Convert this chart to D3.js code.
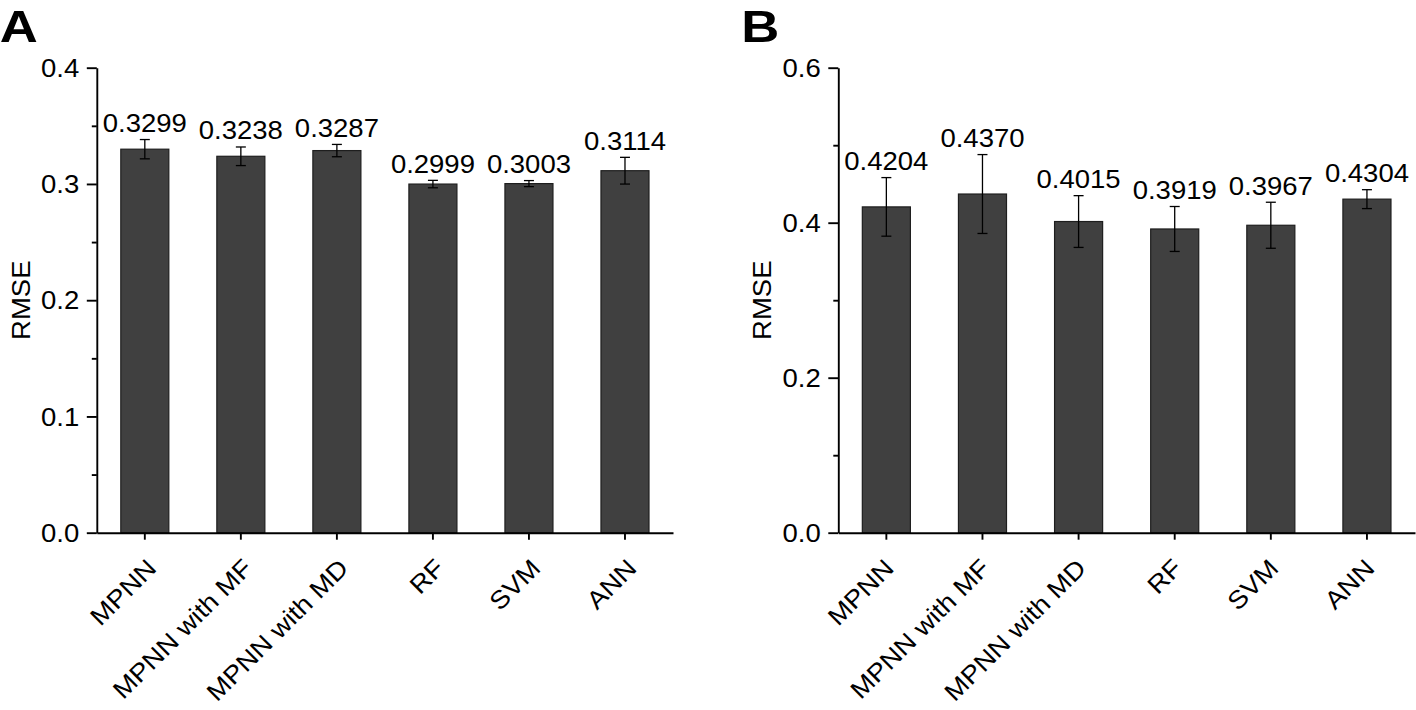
<!DOCTYPE html>
<html>
<head>
<meta charset="utf-8">
<script src="https://cdn.jsdelivr.net/npm/d3@7"></script>
<style>
  html, body { margin: 0; padding: 0; background: #fff; }
  svg { display: block; }
  text { font-family: "Liberation Sans", Arial, Helvetica, sans-serif; fill: #000; }
</style>
</head>
<body>
<svg id="chart" width="1416" height="710"></svg>
<script>
// ---------- data ----------
const categories = ["MPNN", "MPNN with MF", "MPNN with MD", "RF", "SVM", "ANN"];
const rmseA = [0.3299, 0.3238, 0.3287, 0.2999, 0.3003, 0.3114];
const errA  = [0.0083, 0.0080, 0.0053, 0.0032, 0.0026, 0.0115];
const rmseB = [0.4204, 0.4370, 0.4015, 0.3919, 0.3967, 0.4304];
const errB  = [0.0378, 0.0509, 0.0334, 0.0290, 0.0297, 0.0122];
const yTicksA = [0.0, 0.1, 0.2, 0.3, 0.4];
const yMinorA = [0.05, 0.15, 0.25, 0.35];
const yTicksB = [0.0, 0.2, 0.4, 0.6];
const yMinorB = [0.1, 0.3, 0.5];
const panelLetters = ["A", "B"];
const yTitle = "RMSE";

// ---------- drawing ----------
const svg = d3.select("#chart");
const FS = 25;              // text size
const SX = 1.1;             // horizontal glyph widening
const fmt4 = d3.format(".4f");
const fmt1 = d3.format(".1f");

function drawPanel(cfg) {
  const g = svg.append("g");
  const x = d3.scaleBand().domain(categories).range([cfg.x0, cfg.x1]).paddingInner(0.5).paddingOuter(0.25);
  const y = d3.scaleLinear().domain([0, cfg.ymax]).range([cfg.yBottom, cfg.yTop]);

  // bars
  g.selectAll("rect.bar").data(categories).join("rect")
    .attr("class", "bar")
    .attr("x", d => x(d))
    .attr("width", x.bandwidth())
    .attr("y", (d, i) => y(cfg.values[i]))
    .attr("height", (d, i) => y(0) - y(cfg.values[i]))
    .attr("fill", "#404040")
    .attr("stroke", "#1e1e1e")
    .attr("stroke-width", 1.2);

  // error bars
  const cx = d => x(d) + x.bandwidth() / 2;
  const eg = g.selectAll("g.err").data(categories).join("g").attr("class", "err")
    .attr("stroke", "#000").attr("stroke-width", 1.3);
  eg.append("line")
    .attr("x1", cx).attr("x2", cx)
    .attr("y1", (d, i) => y(cfg.values[i] + cfg.errors[i]))
    .attr("y2", (d, i) => y(cfg.values[i] - cfg.errors[i]));
  eg.append("line")
    .attr("x1", d => cx(d) - 5).attr("x2", d => cx(d) + 5)
    .attr("y1", (d, i) => y(cfg.values[i] + cfg.errors[i]))
    .attr("y2", (d, i) => y(cfg.values[i] + cfg.errors[i]));
  eg.append("line")
    .attr("x1", d => cx(d) - 5).attr("x2", d => cx(d) + 5)
    .attr("y1", (d, i) => y(cfg.values[i] - cfg.errors[i]))
    .attr("y2", (d, i) => y(cfg.values[i] - cfg.errors[i]));

  // value labels
  g.selectAll("text.val").data(categories).join("text")
    .attr("class", "val")
    .attr("text-anchor", "middle")
    .attr("font-size", FS)
    .attr("transform", (d, i) => `translate(${cx(d)},${y(cfg.values[i] + cfg.errors[i]) - 7.5}) scale(${SX},1)`)
    .text((d, i) => fmt4(cfg.values[i]));

  // y axis (major)
  const yAxis = g.append("g")
    .attr("transform", `translate(${cfg.x0},0)`)
    .call(d3.axisLeft(y).tickValues(cfg.yTicks).tickSize(10).tickSizeOuter(0).tickFormat(fmt1));
  // y axis (minor)
  g.append("g")
    .attr("transform", `translate(${cfg.x0},0)`)
    .call(d3.axisLeft(y).tickValues(cfg.yMinor).tickSize(5).tickSizeOuter(0).tickFormat(""))
    .select(".domain").remove();

  yAxis.selectAll(".tick text")
    .attr("x", null).attr("dy", "0.35em")
    .attr("font-size", FS)
    .attr("transform", `translate(-17.5,0) scale(${SX},1)`);

  // x axis
  const xAxis = g.append("g")
    .attr("transform", `translate(0,${cfg.yBottom})`)
    .call(d3.axisBottom(x).tickSize(7).tickSizeOuter(0));
  xAxis.selectAll(".tick text")
    .attr("x", null).attr("y", null).attr("dy", null)
    .attr("text-anchor", "end")
    .attr("font-size", FS)
    .attr("transform", `translate(${cfg.labelDx},37) rotate(-45) scale(${SX},1)`);

  g.selectAll(".domain, .tick line").attr("stroke", "#000").attr("stroke-width", 1.9);
  g.selectAll(".tick text").attr("fill", "#000").attr("font-family", null);

  // y title
  g.append("text")
    .attr("text-anchor", "middle")
    .attr("font-size", FS)
    .attr("transform", `translate(${cfg.x0 - 67},${(cfg.yTop + cfg.yBottom) / 2}) rotate(-90) scale(${SX},1)`)
    .text(yTitle);

  // panel letter
  g.append("text")
    .attr("font-size", 45)
    .attr("font-weight", "bold")
    .attr("transform", `translate(${cfg.x0 - 97},41.5) scale(1.17,1)`)
    .text(cfg.letter);
}

drawPanel({ x0: 96.8, x1: 673, yTop: 67.7, yBottom: 532.7, ymax: 0.4,
  values: rmseA, errors: errA, yTicks: yTicksA, yMinor: yMinorA, letter: panelLetters[0], labelDx: 13 });
drawPanel({ x0: 838.3, x1: 1415, yTop: 67.7, yBottom: 532.7, ymax: 0.6,
  values: rmseB, errors: errB, yTicks: yTicksB, yMinor: yMinorB, letter: panelLetters[1], labelDx: 9 });
</script>
</body>
</html>
